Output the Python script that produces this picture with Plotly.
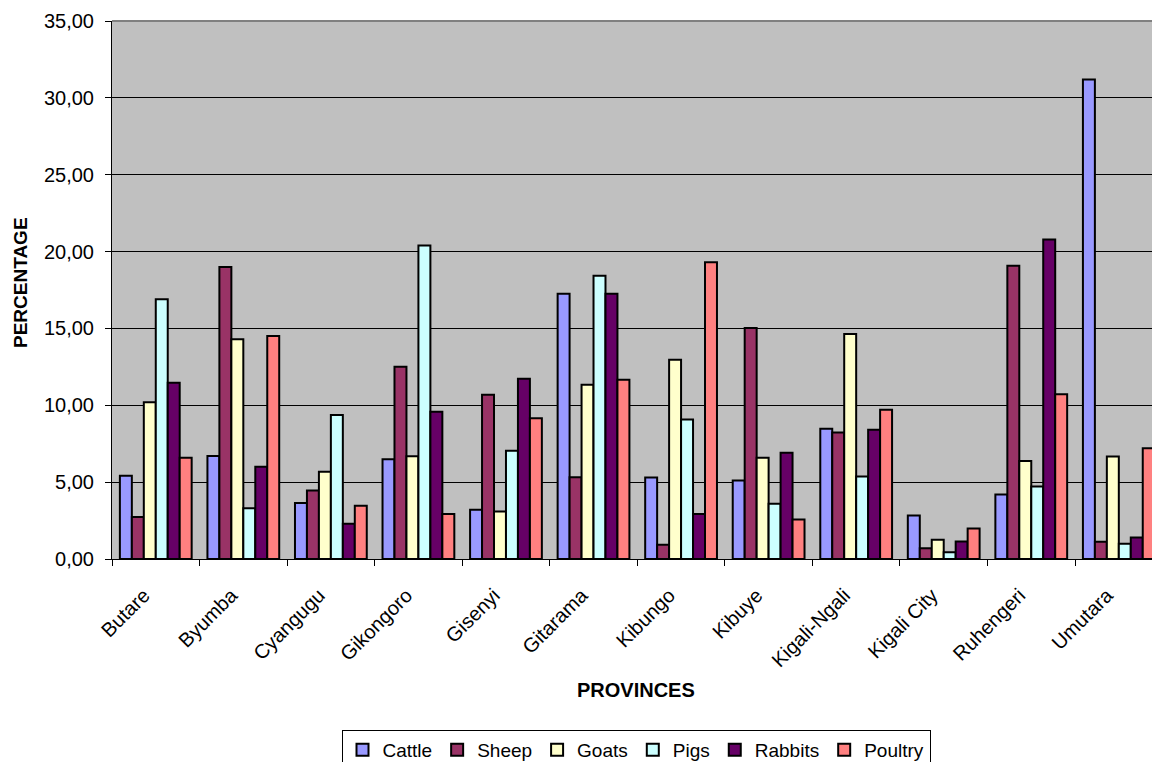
import plotly.graph_objects as go

provinces = ["Butare", "Byumba", "Cyangugu", "Gikongoro", "Gisenyi", "Gitarama",
             "Kibungo", "Kibuye", "Kigali-Ngali", "Kigali City", "Ruhengeri", "Umutara"]
cattle  = [5.42, 6.70, 3.64, 6.49, 3.20, 17.25, 5.30, 5.10, 8.47, 2.83, 4.20, 31.20]
sheep   = [2.73, 19.00, 4.45, 12.50, 10.68, 5.32, 0.92, 15.02, 8.23, 0.70, 19.08, 1.12]
goats   = [10.20, 14.30, 5.68, 6.68, 3.09, 11.33, 12.96, 6.58, 14.63, 1.25, 6.37, 6.67]
pigs    = [16.90, 3.30, 9.37, 20.40, 7.04, 18.42, 9.08, 3.59, 5.37, 0.44, 4.72, 0.99]
rabbits = [11.47, 6.00, 2.30, 9.58, 11.72, 17.25, 2.92, 6.91, 8.41, 1.14, 20.79, 1.40]
poultry = [6.59, 14.50, 3.47, 2.93, 9.16, 11.66, 19.31, 2.57, 9.71, 1.98, 10.72, 7.21]

series = [("Cattle", cattle, "#9999FF"), ("Sheep", sheep, "#993366"),
          ("Goats", goats, "#FFFFCC"), ("Pigs", pigs, "#CCFFFF"),
          ("Rabbits", rabbits, "#660066"), ("Poultry", poultry, "#FF8080")]

FONT = "Liberation Sans, Arial, sans-serif"

fig = go.Figure()
for name, vals, col in series:
    fig.add_trace(go.Bar(x=provinces, y=vals, name=name,
                         marker=dict(color=col, line=dict(color="black", width=2))))

# tick label text (trailing non-breaking spaces emulate Excel's label offset)
tick_text = [p + "\u00a0\u00a0\u00a0" for p in provinces]

W, H = 1152, 762
L, T, B = 112, 21, 203
fig.update_layout(
    width=W, height=H,
    margin=dict(l=L, r=0, t=T, b=B, autoexpand=False),
    paper_bgcolor="white", plot_bgcolor="#C0C0C0",
    barmode="group", bargap=0.18, bargroupgap=0,
    separators=",.",
    font=dict(family=FONT, size=19, color="black"),
    showlegend=True,
    legend=dict(orientation="h", x=(636 - L) / (W - L), xanchor="center",
                y=(559 - 730) / 538, yanchor="top",
                bordercolor="black", borderwidth=1, bgcolor="white",
                font=dict(family=FONT, size=19, color="black"),
                itemwidth=30, tracegroupgap=0),
    xaxis=dict(range=[-0.5, 11.379], type="category", showgrid=False,
               showline=True, linecolor="black", linewidth=1,
               ticks="outside", ticklen=6, tickcolor="black", tickson="boundaries",
               tickmode="array", tickvals=provinces, ticktext=tick_text,
               tickangle=-45, tickfont=dict(family=FONT, size=20, color="black"),
               ticklabelstandoff=4),
    yaxis=dict(range=[0, 35], dtick=5, tickformat=".2f",
               showgrid=True, gridcolor="black", gridwidth=1,
               showline=True, linecolor="black", linewidth=1, zeroline=False,
               ticks="outside", ticklen=6, tickcolor="black",
               tickfont=dict(family=FONT, size=20, color="black"),
               ticklabelstandoff=7),
    annotations=[
        dict(text="<b>PERCENTAGE</b>", xref="paper", yref="paper",
             x=(20 - L) / (W - L), y=(559 - 283) / 538, xanchor="center", yanchor="middle",
             textangle=-90, showarrow=False, font=dict(family=FONT, size=19, color="black")),
        dict(text="<b>PROVINCES</b>", xref="paper", yref="paper",
             x=(636 - L) / (W - L), y=(559 - 690) / 538, xanchor="center", yanchor="middle",
             showarrow=False, font=dict(family=FONT, size=20, color="black")),
    ],
    shapes=[dict(type="line", xref="paper", yref="paper", x0=0, x1=1, y0=1, y1=1,
                 line=dict(color="#808080", width=2))],
)

fig.write_html("out.html")
